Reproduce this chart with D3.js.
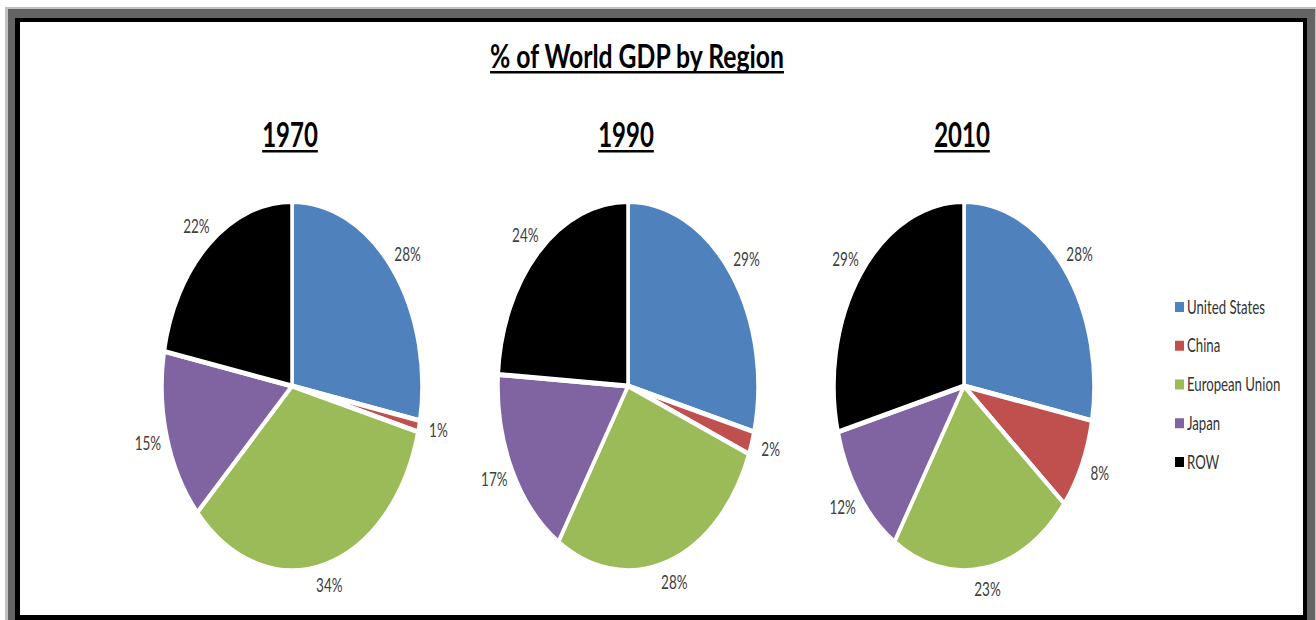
<!DOCTYPE html>
<html>
<head>
<meta charset="utf-8">
<script src="https://cdn.jsdelivr.net/npm/d3@7"></script>
<style>
  body { margin: 0; background: #fff; }
  svg { display: block; font-family: Lato, "Open Sans", sans-serif; }
</style>
</head>
<body>
<div id="chart"></div>
<script>
// data
const regions = ["United States", "China", "European Union", "Japan", "ROW"];
const regionColors = ["#4f81bd", "#c0504d", "#9bbb59", "#8064a2", "#000000"];
const years = ["1970", "1990", "2010"];
const share1970 = [28, 1, 34, 15, 22];
const share1990 = [29, 2, 28, 17, 24];
const share2010 = [28, 8, 23, 12, 29];
const shares = [share1970, share1990, share2010];

let width = 1316;
let height = 620;
let sy = 1.42; // the whole picture is stretched vertically

let svg = d3.select("#chart")
  .append("svg")
  .attr("width", width)
  .attr("height", height);

// window frame
svg.append("rect").attr("x", 5).attr("y", 7).attr("width", 1311).attr("height", 613).attr("fill", "#c0c0c0");
svg.append("rect").attr("x", 8).attr("y", 9).attr("width", 1307).attr("height", 611).attr("fill", "#646464");
svg.append("rect").attr("x", 15).attr("y", 18).attr("width", 1292).attr("height", 602).attr("fill", "#000");
svg.append("rect").attr("x", 20).attr("y", 22).attr("width", 1283).attr("height", 593).attr("fill", "#fff");

// helper: text stretched like the rest of the picture
function stretchedText(parent, x, y, str, sx) {
  return parent.append("text")
    .attr("transform", "translate(" + x + "," + y + ") scale(" + (sx || 1) + "," + sy + ")")
    .text(str);
}

function underline(textSel, cx, y, thick, sx) {
  let w = textSel.node().getComputedTextLength() * (sx || 1);
  svg.append("rect")
    .attr("x", cx - w / 2)
    .attr("y", y)
    .attr("width", w)
    .attr("height", thick)
    .attr("fill", "#000");
}

// title
let title = stretchedText(svg, 637, 68, "% of World GDP by Region", 1.1)
  .attr("text-anchor", "middle")
  .style("font-size", "22.5px")
  .style("font-weight", "bold");
underline(title, 637, 71, 2.5, 1.1);

// pie centers
let xPos = d3.scalePoint().domain(years).range([292, 964]);
let cy = 386;
let r = 130;

let pie = d3.pie().sort(null).value(function(d) { return d; });
let arc = d3.arc().innerRadius(0).outerRadius(r);

years.forEach(function(year, i) {
  let cx = xPos(year);

  // year heading
  let yt = stretchedText(svg, cx - 2, 147, year)
    .attr("text-anchor", "middle")
    .style("font-size", "24px")
    .style("font-weight", "bold");
  underline(yt, cx - 2, 150, 2.5);

  let arcs = pie(shares[i]);

  let g = svg.append("g")
    .attr("transform", "translate(" + cx + "," + cy + ") scale(1," + sy + ")");

  g.selectAll("path")
    .data(arcs)
    .enter()
    .append("path")
    .attr("d", arc)
    .attr("fill", function(d, j) { return regionColors[j]; })
    .attr("stroke", "#fff")
    .attr("stroke-width", 3.5)
    .attr("stroke-linejoin", "round");

  // percentage labels outside the edge
  arcs.forEach(function(d) {
    let a = (d.startAngle + d.endAngle) / 2;
    let lx = cx + Math.sin(a) * (r + 20);
    let ly = cy - Math.cos(a) * (r * sy + 22);
    stretchedText(svg, lx, ly + 4.5 * sy, d.data + "%")
      .attr("text-anchor", "middle")
      .style("font-size", "13.5px")
      .attr("fill", "#404040");
  });
});

// legend
let legendY = d3.scalePoint().domain(regions).range([307, 462]);

regions.forEach(function(name, i) {
  let y = legendY(name);
  svg.append("rect")
    .attr("x", 1175)
    .attr("y", y - 5)
    .attr("width", 9)
    .attr("height", 10)
    .attr("fill", regionColors[i]);
  stretchedText(svg, 1187, y + 6.5, name)
    .style("font-size", "13.2px")
    .attr("fill", "#333");
});
</script>
</body>
</html>
